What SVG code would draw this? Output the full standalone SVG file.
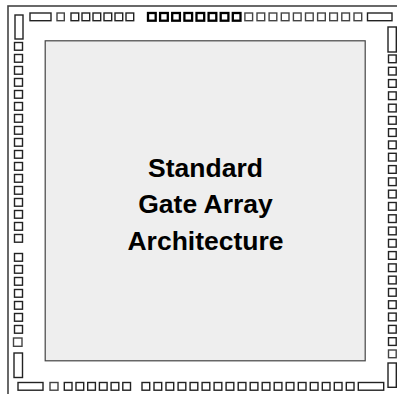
<svg xmlns="http://www.w3.org/2000/svg" width="397" height="394" viewBox="0 0 397 394">
<style>
.p{fill:#fff;stroke:#222;stroke-width:1.4}
.g{fill:#fff;stroke:#444;stroke-width:1.4}
.b{fill:#fff;stroke:#000;stroke-width:2.3}
.t{font-family:"Liberation Sans",Arial,Helvetica,sans-serif;font-weight:bold;font-size:26.5px;fill:#000;text-anchor:middle}
</style>
<rect x="0" y="0" width="397" height="394" fill="#fff"/>
<g id="frame">
<rect x="8" y="6" width="400" height="400" fill="none" stroke="#444" stroke-width="1.6"/>
</g>
<g id="core">
<rect x="45.2" y="40.8" width="320" height="320" fill="#eeeeee" stroke="#444" stroke-width="1.2"/>
<text class="t" x="205.5" y="177">Standard</text>
<text class="t" x="205.5" y="213">Gate Array</text>
<text class="t" x="205.5" y="250">Architecture</text>
</g>
<g id="pads-top">
<rect class="p" x="30" y="13" width="21" height="7.7"/>
<rect class="g" x="57" y="13" width="7.3" height="7.7"/>
<rect class="p" x="71" y="13" width="7.7" height="7.7"/>
<rect class="p" x="82" y="13" width="7.7" height="7.7"/>
<rect class="p" x="93" y="13" width="7.7" height="7.7"/>
<rect class="p" x="104" y="13" width="7.7" height="7.7"/>
<rect class="p" x="115" y="13" width="7.7" height="7.7"/>
<rect class="p" x="126" y="13" width="7.7" height="7.7"/>
<rect class="b" x="148" y="13" width="7.7" height="7.7"/>
<rect class="b" x="160.1" y="13" width="7.7" height="7.7"/>
<rect class="b" x="172.2" y="13" width="7.7" height="7.7"/>
<rect class="b" x="184.4" y="13" width="7.7" height="7.7"/>
<rect class="b" x="196.5" y="13" width="7.7" height="7.7"/>
<rect class="b" x="208.6" y="13" width="7.7" height="7.7"/>
<rect class="b" x="220.7" y="13" width="7.7" height="7.7"/>
<rect class="b" x="232.8" y="13" width="7.7" height="7.7"/>
<rect class="g" x="244.9" y="13" width="7.7" height="7.7"/>
<rect class="g" x="257" y="13" width="7.7" height="7.7"/>
<rect class="g" x="269.1" y="13" width="7.7" height="7.7"/>
<rect class="g" x="281.3" y="13" width="7.7" height="7.7"/>
<rect class="g" x="293.4" y="13" width="7.7" height="7.7"/>
<rect class="g" x="305.5" y="13" width="7.7" height="7.7"/>
<rect class="g" x="317.6" y="13" width="7.7" height="7.7"/>
<rect class="g" x="329.7" y="13" width="7.7" height="7.7"/>
<rect class="g" x="341.8" y="13" width="7.7" height="7.7"/>
<rect class="g" x="354" y="13" width="7.7" height="7.7"/>
<rect class="p" x="367.5" y="13" width="24.5" height="7.7"/>
</g>
<g id="pads-left">
<rect class="p" x="15" y="15" width="8" height="24"/>
<rect class="p" x="14.5" y="42.5" width="8" height="7.7"/>
<rect class="p" x="14.5" y="54.5" width="8" height="7.7"/>
<rect class="p" x="14.5" y="66.5" width="8" height="7.7"/>
<rect class="p" x="14.5" y="78.5" width="8" height="7.7"/>
<rect class="p" x="14.5" y="90.5" width="8" height="7.7"/>
<rect class="p" x="14.5" y="102.5" width="8" height="7.7"/>
<rect class="p" x="14.5" y="114.5" width="8" height="7.7"/>
<rect class="p" x="14.5" y="126.5" width="8" height="7.7"/>
<rect class="p" x="14.5" y="138.5" width="8" height="7.7"/>
<rect class="p" x="14.5" y="150.5" width="8" height="7.7"/>
<rect class="p" x="14.5" y="162.5" width="8" height="7.7"/>
<rect class="p" x="14.5" y="174.5" width="8" height="7.7"/>
<rect class="p" x="14.5" y="186.5" width="8" height="7.7"/>
<rect class="p" x="14.5" y="198.5" width="8" height="7.7"/>
<rect class="p" x="14.5" y="210.5" width="8" height="7.7"/>
<rect class="p" x="14.5" y="222.5" width="8" height="7.7"/>
<rect class="p" x="14.5" y="234.5" width="8" height="7.7"/>
<rect class="p" x="14.5" y="253.5" width="8" height="7.7"/>
<rect class="p" x="14.5" y="265.5" width="8" height="7.7"/>
<rect class="p" x="14.5" y="277.5" width="8" height="7.7"/>
<rect class="p" x="14.5" y="289.5" width="8" height="7.7"/>
<rect class="p" x="14.5" y="301.5" width="8" height="7.7"/>
<rect class="p" x="14.5" y="313.5" width="8" height="7.7"/>
<rect class="p" x="14.5" y="325.5" width="8" height="7.7"/>
<rect class="g" x="13.5" y="338" width="8.5" height="8.3"/>
<rect class="p" x="14" y="353" width="8.5" height="24.5"/>
</g>
<g id="pads-right">
<rect class="p" x="388" y="27" width="8.3" height="25"/>
<rect class="p" x="388.5" y="55" width="7.7" height="7.7"/>
<rect class="p" x="388.5" y="67.3" width="7.7" height="7.7"/>
<rect class="p" x="388.5" y="79.6" width="7.7" height="7.7"/>
<rect class="p" x="388.5" y="91.9" width="7.7" height="7.7"/>
<rect class="p" x="388.5" y="104.2" width="7.7" height="7.7"/>
<rect class="p" x="388.5" y="116.5" width="7.7" height="7.7"/>
<rect class="p" x="388.5" y="128.7" width="7.7" height="7.7"/>
<rect class="p" x="388.5" y="141" width="7.7" height="7.7"/>
<rect class="p" x="388.5" y="153.3" width="7.7" height="7.7"/>
<rect class="p" x="388.5" y="165.6" width="7.7" height="7.7"/>
<rect class="p" x="388.5" y="177.9" width="7.7" height="7.7"/>
<rect class="p" x="388.5" y="190.2" width="7.7" height="7.7"/>
<rect class="p" x="388.5" y="202.5" width="7.7" height="7.7"/>
<rect class="p" x="388.5" y="214.8" width="7.7" height="7.7"/>
<rect class="p" x="388.5" y="227.1" width="7.7" height="7.7"/>
<rect class="p" x="388.5" y="239.4" width="7.7" height="7.7"/>
<rect class="p" x="388.5" y="251.6" width="7.7" height="7.7"/>
<rect class="p" x="388.5" y="263.9" width="7.7" height="7.7"/>
<rect class="p" x="388.5" y="276.2" width="7.7" height="7.7"/>
<rect class="p" x="388.5" y="288.5" width="7.7" height="7.7"/>
<rect class="p" x="388.5" y="300.8" width="7.7" height="7.7"/>
<rect class="p" x="388.5" y="313.1" width="7.7" height="7.7"/>
<rect class="p" x="388.5" y="325.4" width="7.7" height="7.7"/>
<rect class="p" x="388.5" y="337.7" width="7.7" height="7.7"/>
<rect class="g" x="388.5" y="350" width="7.7" height="7.7"/>
<rect class="p" x="388" y="363" width="8.3" height="24.3"/>
</g>
<g id="pads-bottom">
<rect class="p" x="18" y="382.5" width="25" height="7.7"/>
<rect class="g" x="50" y="382.5" width="8" height="7.7"/>
<rect class="p" x="64.3" y="382.5" width="7.7" height="7.7"/>
<rect class="p" x="76" y="382.5" width="7.7" height="7.7"/>
<rect class="p" x="87.7" y="382.5" width="7.7" height="7.7"/>
<rect class="p" x="99.4" y="382.5" width="7.7" height="7.7"/>
<rect class="p" x="111.1" y="382.5" width="7.7" height="7.7"/>
<rect class="p" x="122.8" y="382.5" width="7.7" height="7.7"/>
<rect class="p" x="142" y="382.5" width="7.7" height="7.7"/>
<rect class="p" x="154" y="382.5" width="7.7" height="7.7"/>
<rect class="p" x="166" y="382.5" width="7.7" height="7.7"/>
<rect class="p" x="178.1" y="382.5" width="7.7" height="7.7"/>
<rect class="p" x="190.1" y="382.5" width="7.7" height="7.7"/>
<rect class="p" x="202.1" y="382.5" width="7.7" height="7.7"/>
<rect class="p" x="214.1" y="382.5" width="7.7" height="7.7"/>
<rect class="p" x="226.1" y="382.5" width="7.7" height="7.7"/>
<rect class="p" x="238.2" y="382.5" width="7.7" height="7.7"/>
<rect class="p" x="250.2" y="382.5" width="7.7" height="7.7"/>
<rect class="p" x="262.2" y="382.5" width="7.7" height="7.7"/>
<rect class="p" x="274.2" y="382.5" width="7.7" height="7.7"/>
<rect class="p" x="286.2" y="382.5" width="7.7" height="7.7"/>
<rect class="p" x="298.3" y="382.5" width="7.7" height="7.7"/>
<rect class="p" x="310.3" y="382.5" width="7.7" height="7.7"/>
<rect class="p" x="322.3" y="382.5" width="7.7" height="7.7"/>
<rect class="p" x="334.3" y="382.5" width="7.7" height="7.7"/>
<rect class="p" x="346.3" y="382.5" width="7.7" height="7.7"/>
<rect class="p" x="358.3" y="382.5" width="25.4" height="7.7"/>
</g>
</svg>
